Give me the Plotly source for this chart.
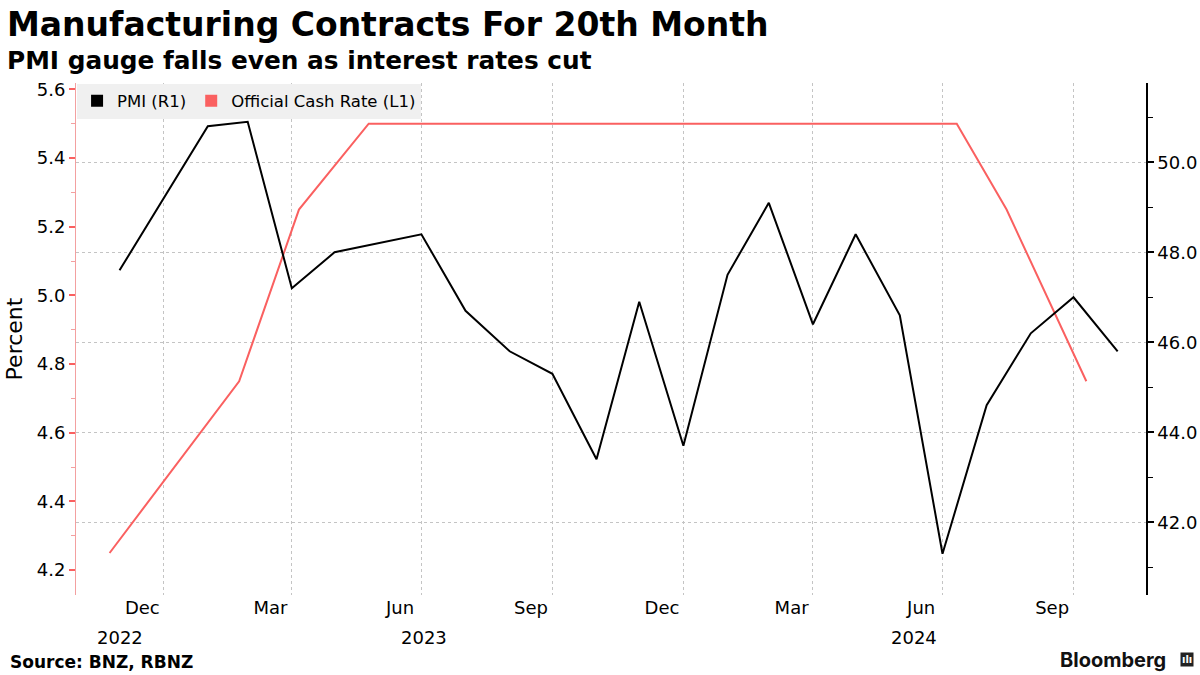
import plotly.graph_objects as go

# ---------------- data ----------------
pmi_dates = ["2022-11-30", "2022-12-31", "2023-01-31", "2023-02-28", "2023-03-31", "2023-04-30",
             "2023-05-31", "2023-06-30", "2023-07-31", "2023-08-31", "2023-09-30", "2023-10-31",
             "2023-11-30", "2023-12-31", "2024-01-31", "2024-02-29", "2024-03-31", "2024-04-30",
             "2024-05-31", "2024-06-30", "2024-07-31", "2024-08-31", "2024-09-30", "2024-10-31"]
pmi_values = [47.6, 49.2, 50.8, 50.9, 47.2, 48.0, 48.2, 48.4, 46.7, 45.8, 45.3, 43.4,
              46.9, 43.7, 47.5, 49.1, 46.4, 48.4, 46.6, 41.3, 44.6, 46.2, 47.0, 45.8]

ocr_dates = ["2022-11-23", "2023-02-22", "2023-04-05", "2023-05-24", "2023-07-12", "2023-08-16",
             "2023-10-04", "2023-11-29", "2024-02-28", "2024-04-10", "2024-05-22", "2024-07-10",
             "2024-08-14", "2024-10-09"]
ocr_values = [4.25, 4.75, 5.25, 5.5, 5.5, 5.5, 5.5, 5.5, 5.5, 5.5, 5.5, 5.5, 5.25, 4.75]

month_tick_dates = ["2022-12-16", "2023-03-16", "2023-06-15", "2023-09-15",
                    "2023-12-16", "2024-03-16", "2024-06-15", "2024-09-15"]
month_tick_text = ["Dec", "Mar", "Jun", "Sep", "Dec", "Mar", "Jun", "Sep"]
grid_dates = ["2022-12-31", "2023-03-31", "2023-06-30", "2023-09-30",
              "2023-12-31", "2024-03-31", "2024-06-30", "2024-09-30"]
year_label_dates = ["2022-11-30", "2023-07-02", "2024-06-10"]
year_labels = ["2022", "2023", "2024"]

x_range = ["2022-10-30 10:00", "2024-11-19 22:00"]
left_range = [4.1277, 5.6185]
right_range = [40.384, 51.762]

RED = "#fa6060"
FONT = "DejaVu Sans"

# ---------------- figure ----------------
fig = go.Figure()

fig.add_trace(go.Scatter(x=ocr_dates, y=ocr_values, mode="lines", yaxis="y",
                         line=dict(color=RED, width=2), showlegend=False))
fig.add_trace(go.Scatter(x=pmi_dates, y=pmi_values, mode="lines", yaxis="y2",
                         line=dict(color="#000000", width=2), showlegend=False))

# legend entries (square swatches)
fig.add_trace(go.Scatter(x=[None], y=[None], mode="markers", name="PMI (R1)",
                         marker=dict(symbol="square", size=16, color="#000000")))
fig.add_trace(go.Scatter(x=[None], y=[None], mode="markers", name="Official Cash Rate (L1)",
                         marker=dict(symbol="square", size=16, color=RED)))

fig.update_layout(
    width=1200, height=675,
    margin=dict(l=76, r=54, t=83, b=80),
    paper_bgcolor="white", plot_bgcolor="white",
    font=dict(family=FONT, size=18, color="#000000"),
    showlegend=True,
    legend=dict(orientation="h", x=0.001, y=0.999, xanchor="left", yanchor="top",
                bgcolor="#f0f0f0", font=dict(size=16.5, family=FONT),
                itemsizing="constant", traceorder="normal", itemwidth=30),
    xaxis=dict(type="date", range=x_range, automargin=False,
               tickmode="array", tickvals=month_tick_dates, ticktext=month_tick_text,
               tickangle=0, ticks="", showgrid=False, showline=False, zeroline=False,
               tickfont=dict(size=18),
               minor=dict(tickmode="array", tickvals=grid_dates, showgrid=True,
                          gridcolor="#c4c4c4", griddash="dot", gridwidth=1, ticks="")),
    yaxis=dict(range=left_range, automargin=False, dtick=0.2, tick0=4.2, tickformat=".1f",
               showgrid=False, zeroline=False, showline=True, linecolor="#f3a0a0", linewidth=1,
               ticks="outside", ticklen=6, tickwidth=2, tickcolor=RED,
               minor=dict(dtick=0.1, tick0=4.1, ticks="outside", ticklen=4, tickwidth=1,
                          tickcolor="#f3a0a0", showgrid=False),
               title=dict(text="Percent", font=dict(size=22), standoff=8),
               tickfont=dict(size=18)),
    yaxis2=dict(range=right_range, overlaying="y", side="right", automargin=False,
                dtick=2, tick0=42, tickformat=".1f",
                showgrid=True, gridcolor="#c4c4c4", griddash="dot", gridwidth=1,
                zeroline=False, showline=True, linecolor="#000000", linewidth=1.5,
                ticks="outside", ticklen=6, tickwidth=2, tickcolor="#000000",
                minor=dict(dtick=1, tick0=41, ticks="outside", ticklen=5, tickwidth=1,
                           tickcolor="#000000", showgrid=False),
                tickfont=dict(size=18)),
)

# year labels under the month labels
for d, t in zip(year_label_dates, year_labels):
    fig.add_annotation(x=d, y=0, xref="x", yref="paper", text=t, showarrow=False,
                       xanchor="center", yanchor="middle", yshift=-42,
                       font=dict(size=18, family=FONT))

# titles and footer
fig.add_annotation(x=(5 - 76) / 1070, y=(595 - 24) / 512, xref="paper", yref="paper",
                   text="<b>Manufacturing Contracts For 20th Month</b>", showarrow=False,
                   xanchor="left", yanchor="middle", font=dict(size=33, family=FONT))
fig.add_annotation(x=(5 - 76) / 1070, y=(595 - 60) / 512, xref="paper", yref="paper",
                   text="<b>PMI gauge falls even as interest rates cut</b>", showarrow=False,
                   xanchor="left", yanchor="middle", font=dict(size=24.8, family=FONT))
fig.add_annotation(x=(8 - 76) / 1070, y=(595 - 662) / 512, xref="paper", yref="paper",
                   text="<b>Source: BNZ, RBNZ</b>", showarrow=False,
                   xanchor="left", yanchor="middle", font=dict(size=17, family=FONT))
fig.add_annotation(x=(1168 - 76) / 1070, y=(595 - 660) / 512, xref="paper", yref="paper",
                   text="<b>Bloomberg</b>", showarrow=False,
                   xanchor="right", yanchor="middle", font=dict(size=20, family="Inter", color="#111111"))
fig.add_annotation(x=(1187 - 76) / 1070, y=(595 - 659) / 512, xref="paper", yref="paper",
                   text="<b>ılı</b>", showarrow=False, bgcolor="#222222", borderpad=1,
                   xanchor="center", yanchor="middle", font=dict(size=10, family=FONT, color="white"))

fig.write_html("out.html", config={"displayModeBar": False},
               post_script="document.body.style.margin='0px';document.body.style.overflow='hidden';")
